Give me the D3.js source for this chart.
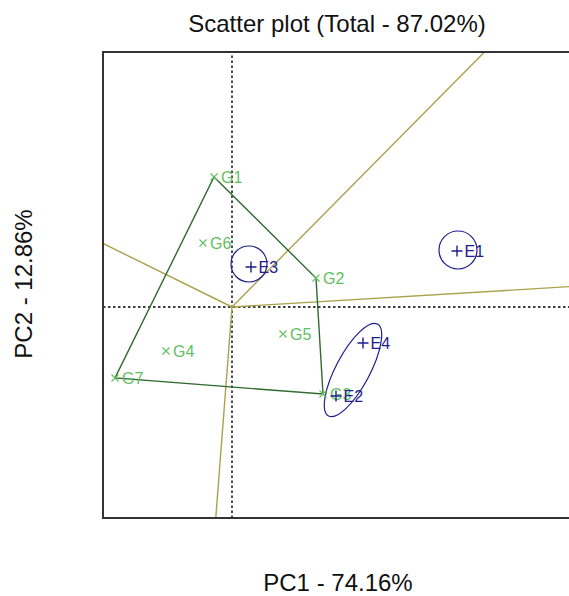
<!DOCTYPE html>
<html>
<head>
<meta charset="utf-8">
<script src="https://cdn.jsdelivr.net/npm/d3@7"></script>
<style>
  html, body { margin: 0; padding: 0; background: #ffffff; }
  svg { display: block; font-family: Arial, "Liberation Sans", sans-serif; }
</style>
</head>
<body>
<svg id="chart" width="569" height="596"></svg>
<script>
// ---------------- data ----------------
const titleText = "Scatter plot (Total - 87.02%)";
const xLabel = "PC1 - 74.16%";
const yLabel = "PC2 - 12.86%";

const genotypes = ["G1", "G2", "G3", "G4", "G5", "G6", "G7"];
const genoPC1 = [-0.36, 1.68, 1.82, -1.32, 1.02, -0.58, -2.34];
const genoPC2 = [2.60, 0.58, -1.74, -0.88, -0.54, 1.28, -1.42];

const environments = ["E1", "E2", "E3", "E4"];
const envPC1 = [4.50, 2.08, 0.38, 2.62];
const envPC2 = [1.12, -1.78, 0.80, -0.72];

// polygon (convex hull) vertices in drawing order
const hullOrder = ["G1", "G2", "G3", "G7"];

// confidence regions around environments: centre, semi-axes (PC units), rotation (deg)
const regionEnv = ["E1", "E3", "E2E4"];
const regionCx = [4.52, 0.34, 2.42];
const regionCy = [1.14, 0.86, -1.26];
const regionRx = [0.38, 0.36, 1.04];
const regionRy = [0.38, 0.36, 0.34];
const regionAngle = [0, 0, 62];

const xDomain = [-2.58, 6.78];
const yDomain = [-4.22, 5.10];

// ---------------- drawing ----------------
const svg = d3.select("#chart");
const box = { left: 103, top: 52, right: 571, bottom: 518 };

const x = d3.scaleLinear().domain(xDomain).range([box.left, box.right]);
const y = d3.scaleLinear().domain(yDomain).range([box.bottom, box.top]);

const col = {
  geno: "#5fbf5f",
  hull: "#2f6a2f",
  ray: "#aca24c",
  env: "#1e1e8c",
  frame: "#333333"
};

svg.append("defs").append("clipPath").attr("id", "clip")
  .append("rect")
  .attr("x", box.left).attr("y", box.top)
  .attr("width", box.right - box.left).attr("height", box.bottom - box.top);

const plot = svg.append("g").attr("clip-path", "url(#clip)");

// dotted axes through origin
plot.append("line")
  .attr("x1", x(xDomain[0])).attr("x2", x(xDomain[1]))
  .attr("y1", y(0)).attr("y2", y(0))
  .attr("stroke", "#000").attr("stroke-width", 1.4).attr("stroke-dasharray", "2.5,2.5");
plot.append("line")
  .attr("x1", x(0)).attr("x2", x(0))
  .attr("y1", y(yDomain[0])).attr("y2", y(yDomain[1]))
  .attr("stroke", "#000").attr("stroke-width", 1.4).attr("stroke-dasharray", "2.5,2.5");

const gIndex = name => genotypes.indexOf(name);
const hullPts = hullOrder.map(n => [genoPC1[gIndex(n)], genoPC2[gIndex(n)]]);

// rays from origin perpendicular to each hull side
const rays = [];
for (let i = 0; i < hullPts.length; i++) {
  const p = hullPts[i], q = hullPts[(i + 1) % hullPts.length];
  let dx = -(q[1] - p[1]), dy = q[0] - p[0];
  if (dx * p[0] + dy * p[1] < 0) { dx = -dx; dy = -dy; }
  const ts = [];
  if (dx > 0) ts.push(xDomain[1] / dx); else if (dx < 0) ts.push(xDomain[0] / dx);
  if (dy > 0) ts.push(yDomain[1] / dy); else if (dy < 0) ts.push(yDomain[0] / dy);
  const t = d3.min(ts);
  rays.push([[0, 0], [dx * t, dy * t]]);
}
const lineGen = d3.line().x(d => x(d[0])).y(d => y(d[1]));
plot.selectAll("path.ray").data(rays).join("path")
  .attr("class", "ray")
  .attr("d", lineGen)
  .attr("fill", "none").attr("stroke", col.ray).attr("stroke-width", 1.4);

// hull polygon
plot.append("path")
  .attr("d", lineGen(hullPts) + "Z")
  .attr("fill", "none").attr("stroke", col.hull).attr("stroke-width", 1.4);

// confidence regions
const sx = Math.abs(x(1) - x(0)), sy = Math.abs(y(1) - y(0));
plot.selectAll("ellipse.region").data(regionEnv).join("ellipse")
  .attr("class", "region")
  .attr("cx", 0).attr("cy", 0)
  .attr("rx", (d, i) => regionRx[i] * sx)
  .attr("ry", (d, i) => regionRy[i] * sy)
  .attr("transform", (d, i) => `translate(${x(regionCx[i])},${y(regionCy[i])}) rotate(${-regionAngle[i]})`)
  .attr("fill", "none").attr("stroke", col.env).attr("stroke-width", 1.2);

// genotype markers (x) and labels
const gG = plot.selectAll("g.geno").data(genotypes).join("g")
  .attr("class", "geno")
  .attr("transform", (d, i) => `translate(${x(genoPC1[i])},${y(genoPC2[i])})`);
gG.append("path").attr("d", "M-3.5,-3.5L3.5,3.5M-3.5,3.5L3.5,-3.5")
  .attr("stroke", col.geno).attr("stroke-width", 1.1);
gG.append("text").attr("x", 7).attr("dy", "0.36em")
  .attr("font-size", 16).attr("fill", col.geno).text(d => d);

// environment markers (+) and labels
const gE = plot.selectAll("g.env").data(environments).join("g")
  .attr("class", "env")
  .attr("transform", (d, i) => `translate(${x(envPC1[i])},${y(envPC2[i])})`);
gE.append("path").attr("d", "M-5.5,0L5.5,0M0,-5.5L0,5.5")
  .attr("stroke", col.env).attr("stroke-width", 1.4);
gE.append("text").attr("x", 7.5).attr("dy", "0.36em")
  .attr("font-size", 16).attr("fill", col.env).text(d => d);

// frame
svg.append("rect")
  .attr("x", box.left).attr("y", box.top)
  .attr("width", box.right - box.left).attr("height", box.bottom - box.top)
  .attr("fill", "none").attr("stroke", col.frame).attr("stroke-width", 2);

// titles
svg.append("text").attr("x", 337).attr("y", 32).attr("text-anchor", "middle")
  .attr("font-size", 24).attr("fill", "#111").text(titleText);
svg.append("text").attr("x", 338).attr("y", 591).attr("text-anchor", "middle")
  .attr("font-size", 24).attr("fill", "#111").text(xLabel);
svg.append("text").attr("transform", "translate(32,284) rotate(-90)").attr("text-anchor", "middle")
  .attr("font-size", 24).attr("fill", "#111").text(yLabel);
</script>
</body>
</html>
